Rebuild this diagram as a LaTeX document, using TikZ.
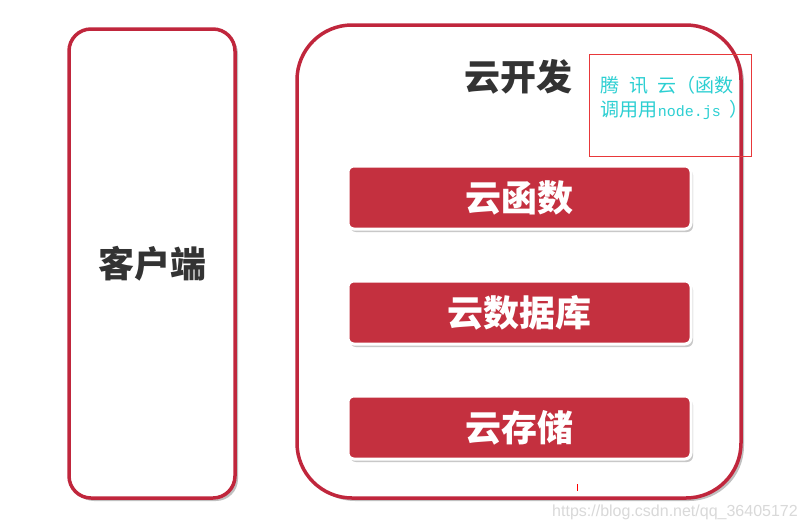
\documentclass[tikz,border=0pt]{standalone}
\usepackage{fontspec}
\setmainfont{Liberation Sans}
\setmonofont{Liberation Mono}
\newfontfamily\cjk{Noto Sans CJK SC}
\usetikzlibrary{shadows}
\definecolor{bord}{HTML}{C0263C}
\definecolor{barred}{HTML}{C4303F}
\definecolor{dark}{HTML}{333333}
\definecolor{notecyan}{HTML}{2CCFD2}
\definecolor{notered}{HTML}{E8383A}
\tikzset{
  panel/.style={draw=bord, line width=3.5pt, fill=white, inner sep=0pt,
    drop shadow={shadow xshift=3pt, shadow yshift=-3pt, opacity=0.35, fill=black!70}},
  bigtext/.style={font=\cjk\bfseries\fontsize{36}{40}\selectfont, text=dark},
  bar/.style={fill=barred, draw=white, line width=3pt, rounded corners=6pt,
    minimum width=343pt, minimum height=63pt, inner sep=0pt,
    font=\cjk\bfseries\fontsize{36}{40}\selectfont, text=white,
    drop shadow={shadow xshift=2pt, shadow yshift=-3pt, opacity=0.3, fill=black!70}},
}
\begin{document}
\begin{tikzpicture}[x=1pt,y=-1pt]
\useasboundingbox (0,0) rectangle (805,531);
\fill[white] (0,0) rectangle (805,531);
% left panel
\node[panel, bigtext, rounded corners=22pt, minimum width=166pt, minimum height=469pt] (client) at (152,263.5) {客户端};
% right panel
\node[panel, rounded corners=55pt, minimum width=444pt, minimum height=473pt] (cloud) at (519,261.5) {};
\node[bigtext] (title) at (518,77) {云开发};
% bars
\node[bar] (func) at (519.5,197.5) {云函数};
\node[bar] (db) at (519.5,312.5) {云数据库};
\node[bar] (store) at (519.5,427.5) {云存储};
% annotation
\node[draw=notered, line width=0.8pt, minimum width=162pt, minimum height=102pt, inner sep=0pt] (note) at (670,105) {};
\node[anchor=north west, align=left, inner sep=0pt, text=notecyan,
  font=\cjk\fontsize{19}{24}\selectfont] (notetext) at ([xshift=12pt,yshift=-22pt]note.north west)
  {腾\hspace{0.5em}讯\hspace{0.5em}云（函数\\调用用{\ttfamily\fontsize{15}{24}\selectfont node.js }）};
% watermark
\node[font=\fontsize{16}{18}\selectfont, text=black!15, inner sep=0pt] (wm) at (675,512) {https://blog.csdn.net/qq\_36405172};
\coordinate (tickA) at (577,484);
\coordinate (tickB) at (577,491);
\draw[red, line width=1pt] (tickA) -- (tickB);
\end{tikzpicture}
\end{document}
